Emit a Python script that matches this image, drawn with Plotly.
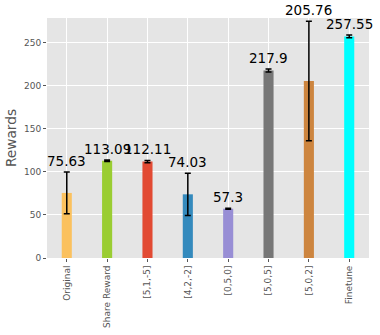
import plotly.graph_objects as go

# Reward per configuration
methods = ['Original', 'Share Reward', '[5,1,-5]', '[4,2,-2]', '[0,5,0]', '[5,0,5]', '[5,0,2]', 'Finetune']
rewards = [75.63, 113.09, 112.11, 74.03, 57.3, 217.9, 205.76, 257.55]
errors = [24.3, 0.8, 1.3, 24.5, 0.6, 1.8, 69.5, 1.6]
colors = ['#FBC15E', '#9ACD32', '#E24A33', '#348ABD', '#988ED5', '#777777', '#CD853F', '#00FFFF']

FONT = 'DejaVu Sans'

fig = go.Figure(go.Bar(
    x=methods,
    y=rewards,
    width=0.25,
    marker=dict(color=colors, line=dict(width=0)),
    error_y=dict(type='data', array=errors, visible=True,
                 color='black', thickness=1.5, width=3),
))

# value labels sit on top of the error bar
for m, v, e in zip(methods, rewards, errors):
    fig.add_annotation(x=m, y=v + e, text=str(v), showarrow=False,
                       yanchor='bottom', yshift=1,
                       font=dict(family=FONT, size=13.5, color='black'))

fig.update_layout(
    width=380, height=335,
    margin=dict(l=47, r=11, t=18, b=77, autoexpand=False),
    paper_bgcolor='white',
    plot_bgcolor='#E5E5E5',
    showlegend=False,
    font=dict(family=FONT, color='#555555'),
)
fig.update_xaxes(
    type='category', range=[-0.49, 7.49], automargin=False,
    showgrid=True, gridcolor='white', gridwidth=1,
    tickangle=-90, tickfont=dict(size=9, color='#555555'),
    ticks='outside', ticklen=3, tickcolor='#555555',
    showline=False, zeroline=False,
)
fig.update_yaxes(
    range=[0, 279], tickvals=[0, 50, 100, 150, 200, 250], automargin=False,
    showgrid=True, gridcolor='white', gridwidth=1,
    tickfont=dict(size=9, color='#555555'),
    ticks='outside', ticklen=3, tickcolor='#555555',
    showline=False, zeroline=False,
    title=dict(text='Rewards', font=dict(size=13.7, color='#555555'), standoff=4),
)

# drop the default page margin so the figure sits at the window's corner
fig.write_html("out.html", config={'displayModeBar': False},
               post_script="document.body.style.margin='0';")
